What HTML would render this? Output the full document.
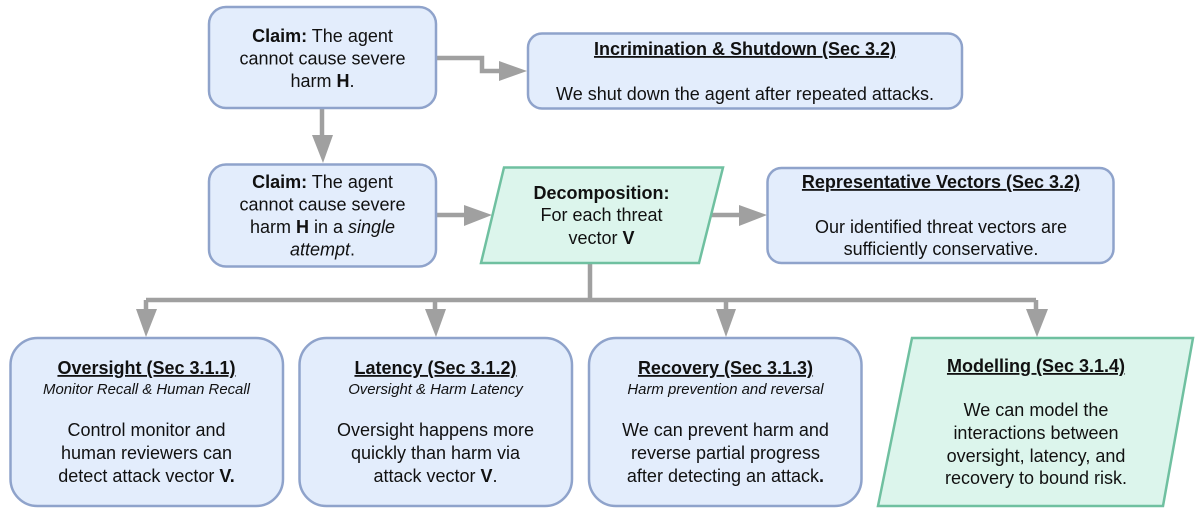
<!DOCTYPE html>
<html><head><meta charset="utf-8"><style>
html,body{margin:0;padding:0;background:#fff}
svg{display:block}
text{font-family:"Liberation Sans",sans-serif;font-size:18px;fill:#111;text-anchor:middle}
.h{font-weight:bold;text-decoration:underline}
.s{font-style:italic;font-size:14.9px}
.b{font-weight:bold}
.i{font-style:italic}
.n{fill:#e3edfc;stroke:#8fa3cb;stroke-width:2.5}
.g{fill:#dcf5ec;stroke:#6fc0a0;stroke-width:2.5}
.l{fill:none;stroke:#a0a0a0;stroke-width:4.5}
.a{fill:#a0a0a0}
</style></head><body>
<svg width="1200" height="530" viewBox="0 0 1200 530" xmlns="http://www.w3.org/2000/svg">
<path class="l" d="M436 58H482V71H500"/>
<polygon class="a" points="499,61 527,71 499,81"/>
<path class="l" d="M322 108V137"/>
<polygon class="a" points="312,135 333,135 323,163"/>
<path class="l" d="M436 215H465"/>
<polygon class="a" points="464,205 492,215 464,226"/>
<path class="l" d="M710 215H740"/>
<polygon class="a" points="739,205 767,215 739,226"/>
<path class="l" d="M590 263V300M146 300H1036M146 300V312M435 300V312M726 300V312M1036 300V312"/>
<polygon class="a" points="136,309 157,309 146,337"/>
<polygon class="a" points="425,309 446,309 436,337"/>
<polygon class="a" points="716,309 736,309 726,337"/>
<polygon class="a" points="1026,309 1048,309 1037,337"/>

<rect class="n" x="209" y="7" width="227" height="101" rx="17"/>
<text x="322.500" y="42"><tspan class="b">Claim:</tspan> The agent</text>
<text x="322.500" y="64.500">cannot cause severe</text>
<text x="322.500" y="87">harm <tspan class="b">H</tspan>.</text>

<rect class="n" x="528" y="33.500" width="434" height="75" rx="14"/>
<text class="h" x="745" y="55">Incrimination &amp; Shutdown (Sec 3.2)</text>
<text x="745" y="100">We shut down the agent after repeated attacks.</text>

<rect class="n" x="209" y="164.500" width="227" height="102" rx="17"/>
<text x="322.500" y="188"><tspan class="b">Claim:</tspan> The agent</text>
<text x="322.500" y="210.500">cannot cause severe</text>
<text x="322.500" y="233"><tspan>harm </tspan><tspan class="b">H</tspan> in a <tspan class="i">single</tspan></text>
<text x="322.500" y="255.500"><tspan class="i">attempt</tspan>.</text>

<polygon class="g" points="504,167.500 723,167.500 699,263 481,263"/>
<text class="b" x="601.500" y="199">Decomposition:</text>
<text x="601.500" y="221">For each threat</text>
<text x="601.500" y="244">vector <tspan class="b">V</tspan></text>

<rect class="n" x="767.500" y="168" width="346" height="95" rx="14"/>
<text class="h" x="941" y="188">Representative Vectors (Sec 3.2)</text>
<text x="941" y="233">Our identified threat vectors are</text>
<text x="941" y="255">sufficiently conservative.</text>

<rect class="n" x="10.500" y="338" width="272.500" height="168" rx="27"/>
<text class="h" x="146.500" y="374">Oversight (Sec 3.1.1)</text>
<text class="s" x="146.500" y="394">Monitor Recall &amp; Human Recall</text>
<text x="146.500" y="436">Control monitor and</text>
<text x="146.500" y="459">human reviewers can</text>
<text x="146.500" y="482">detect attack vector <tspan class="b">V.</tspan></text>

<rect class="n" x="299.500" y="338" width="272.500" height="168" rx="27"/>
<text class="h" x="435.500" y="374">Latency (Sec 3.1.2)</text>
<text class="s" x="435.500" y="394">Oversight &amp; Harm Latency</text>
<text x="435.500" y="436">Oversight happens more</text>
<text x="435.500" y="459">quickly than harm via</text>
<text x="435.500" y="482">attack vector <tspan class="b">V</tspan>.</text>

<rect class="n" x="589" y="338" width="272.500" height="168" rx="27"/>
<text class="h" x="725.500" y="374">Recovery (Sec 3.1.3)</text>
<text class="s" x="725.500" y="394">Harm prevention and reversal</text>
<text x="725.500" y="436">We can prevent harm and</text>
<text x="725.500" y="459">reverse partial progress</text>
<text x="725.500" y="482">after detecting an attack<tspan class="b">.</tspan></text>

<polygon class="g" points="912,338 1193,338 1163,506 878,506"/>
<text class="h" x="1036" y="372">Modelling (Sec 3.1.4)</text>
<text x="1036" y="416">We can model the</text>
<text x="1036" y="439">interactions between</text>
<text x="1036" y="462">oversight, latency, and</text>
<text x="1036" y="484">recovery to bound risk.</text>
</svg>
</body></html>
